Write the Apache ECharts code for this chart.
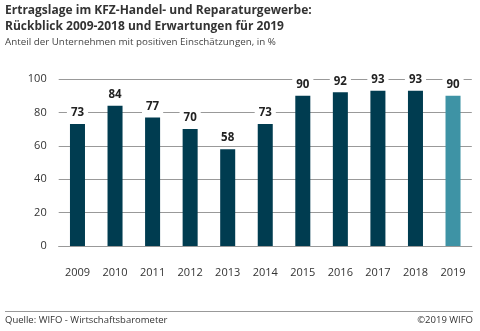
<!DOCTYPE html>
<html><head><meta charset="utf-8">
<script src="https://cdn.jsdelivr.net/npm/echarts@6/dist/echarts.min.js"></script>
<style>html,body{margin:0;padding:0;background:#fff}#c{width:480px;height:331px}</style>
</head><body><div id="c"></div>
<script>
const categories = ['2009','2010','2011','2012','2013','2014','2015','2016','2017','2018','2019'];
const values = [73, 84, 77, 70, 58, 73, 90, 92, 93, 93, 90];
const yTicks = [0, 20, 40, 60, 80, 100];
const titleLine1 = 'Ertragslage im KFZ-Handel- und Reparaturgewerbe:';
const titleLine2 = 'Rückblick 2009-2018 und Erwartungen für 2019';
const subtitle = 'Anteil der Unternehmen mit positiven Einschätzungen, in %';
const source = 'Quelle: WIFO - Wirtschaftsbarometer';
const copyright = '©2019 WIFO';

const font = '"Open Sans", "Noto Sans", sans-serif';
const chart = echarts.init(document.getElementById('c'));
chart.setOption({
  animation: false,
  graphic: [
    {type:'text', left:5, top:5, style:{text:titleLine1, font:'bold 12px ' + font, fill:'#333'}},
    {type:'text', left:5, top:21, style:{text:titleLine2, font:'bold 12px ' + font, fill:'#333'}},
    {type:'text', left:5, top:37, style:{text:subtitle, font:'9.8px ' + font, fill:'#444'}},
    {type:'line', shape:{x1:5, y1:311.5, x2:473, y2:311.5}, style:{stroke:'#999', lineWidth:1}},
    {type:'text', left:5, top:315, style:{text:source, font:'9.5px ' + font, fill:'#333'}},
    {type:'text', right:7, top:315, style:{text:copyright, font:'9.5px ' + font, fill:'#333'}}
  ],
  grid: {left: 58.7, right: 8.2, top: 79, bottom: 85, containLabel: false},
  xAxis: {
    type: 'category', data: categories,
    axisLine: {show: true, lineStyle: {color: '#999'}},
    axisTick: {show: false},
    axisLabel: {color: '#333', fontSize: 11, fontFamily: font, margin: 21}
  },
  yAxis: {
    type: 'value', min: 0, max: 100, interval: 20,
    axisLine: {show: false}, axisTick: {show: false},
    axisLabel: {color: '#333', fontSize: 11, fontFamily: font, margin: 12,
      formatter: v => yTicks.includes(v) ? String(v) : ''},
    splitLine: {lineStyle: {color: '#999', width: 1}}
  },
  series: [{
    type: 'bar', barWidth: '40%',
    data: values.map((v, i) => ({value: v, itemStyle: {color: i === values.length - 1 ? '#3e93a5' : '#003c50'}})),
    label: {show: true, position: 'top', distance: 4, color: '#222', fontWeight: 'bold', fontSize: 11.5, fontFamily: font,
      backgroundColor: '#fff', padding: [1, 4]}
  }]
});
</script></body></html>
